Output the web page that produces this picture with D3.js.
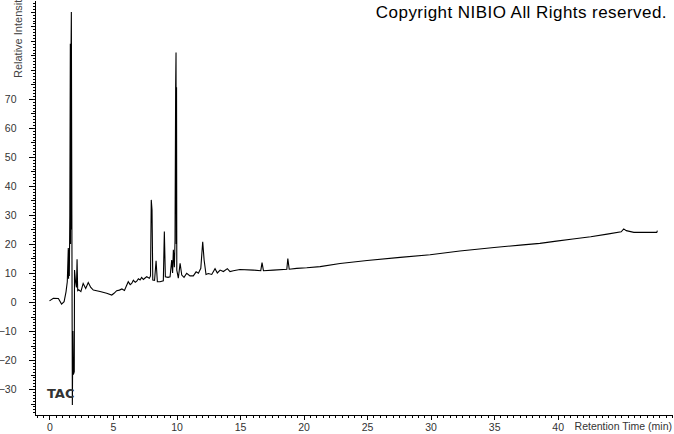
<!DOCTYPE html>
<html>
<head>
<meta charset="utf-8">
<script src="https://cdn.jsdelivr.net/npm/d3@7"></script>
<style>
  body { margin: 0; background: #fff; }
  svg { display: block; }
  .axis text { font-family: "Liberation Sans", Arial, sans-serif; font-size: 10.5px; fill: #333; }
  .axis path, .axis line { stroke: #000; shape-rendering: crispEdges; }
</style>
</head>
<body>
<svg width="674" height="434"></svg>
<script>
// Chromatogram trace (minutes, relative intensity).
let time_min = [
  0, 0.3, 0.7, 0.95, 1.15, 1.3, 1.4, 1.48, 1.5, 1.53, 1.56, 1.6, 1.64, 1.655, 1.67, 1.685,
  1.7, 1.72, 1.76, 1.8, 1.84, 1.88, 1.95, 1.97, 2.05, 2.12, 2.17, 2.22, 2.3, 2.47, 2.65,
  2.85, 3.05, 3.25, 3.45, 3.98, 4.5, 4.9, 5.08, 5.29, 5.5, 5.7, 5.9, 6.05, 6.2, 6.35, 6.47,
  6.6, 6.75, 6.87, 7.0, 7.13, 7.25, 7.39, 7.5, 7.65, 7.86, 7.95, 8.01, 8.07, 8.13, 8.27,
  8.39, 8.49, 8.7, 8.96, 9.04, 9.12, 9.33,
  9.49, 9.62, 9.69, 9.75, 9.83, 9.88, 9.93, 9.96, 9.98, 10.0, 10.02, 10.14, 10.28, 10.41,
  10.59, 10.8, 11.06, 11.32, 11.54, 11.72, 11.91, 12.06, 12.17, 12.32, 12.5, 12.77, 13.03,
  13.21, 13.43, 13.69, 14.0, 14.21, 14.47, 14.99, 16.05, 16.63, 16.73, 16.84, 17.62, 18.68,
  18.76, 18.87, 19.46, 20.25, 21.3, 22.87, 25, 27.6, 29.96, 32.3, 35, 37.05, 38.6, 39.9,
  41.2, 42.6, 43.9, 45.0, 45.2, 45.4, 46.0, 47.8, 47.85
];
let intensity = [
  0.4, 1.3, 1.2, -0.7, 0.1, 3.5, 7, 18.6, 8, 18, 9, 30, 89, 20, 89, 25,
  89, 100, 30, -35.5, -10, -25, -24, 11, 7, 5, 14.7, 3.9, 4.2, 3.6, 6.4,
  4.7, 6.7, 5, 4.1, 3.6, 3, 2.4, 3, 3.9, 4.1, 4.5, 4.0, 5.5, 7, 6, 6.4,
  7.5, 6.8, 7.2, 8, 7.6, 8.5, 7.8, 8.2, 8.7, 8.2, 9, 35.2, 31.7, 7.6, 7.5,
  14.2, 7, 7, 7.3, 24.3, 8.7, 8.5,
  8.7, 14.5, 10, 18, 12, 21.4, 74, 86, 20, 74, 11, 8.2, 13.3, 9.3,
  8.5, 9.9, 9, 9, 10.4, 9.9, 11.6, 20.8, 14.5, 9.5, 9.8, 9.5, 11.5,
  10, 11, 10.5, 11.5, 10.5, 10.8, 11.2, 11, 10.8, 13.6, 10.8, 11, 11.3,
  15, 11.3, 11.6, 11.8, 12.2, 13.3, 14.3, 15.4, 16.3, 17.6, 18.8, 19.6, 20.2, 21,
  21.7, 22.5, 23.4, 24.2, 25.2, 24.6, 24, 24, 24.6
];

// Tick labels.
let x_ticks = [0, 5, 10, 15, 20, 25, 30, 35, 40];
let y_ticks = [-30, -20, -10, 0, 10, 20, 30, 40, 50, 60, 70];

let svg = d3.select("svg");

let x = d3.scaleLinear().domain([-1.22, 49.0]).range([34, 672]);
let y = d3.scaleLinear().domain([-38.6, 104.1]).range([414, 0]);

// Y axis: minor ticks every 1, medium every 5, labelled every 10.
svg.append("g").attr("class", "axis").attr("transform", "translate(34.5,0)")
  .call(d3.axisLeft(y).tickValues(d3.range(-38, 104, 1)).tickSize(2).tickFormat("").tickSizeOuter(0));
svg.append("g").attr("class", "axis").attr("transform", "translate(34.5,0)")
  .call(d3.axisLeft(y).tickValues(d3.range(-35, 104, 5)).tickSize(4).tickFormat(""))
  .call(g => g.select(".domain").remove());
svg.append("g").attr("class", "axis").attr("transform", "translate(34.5,0)")
  .call(d3.axisLeft(y).tickValues(y_ticks).tickSize(6).tickPadding(12))
  .call(g => g.select(".domain").remove());

// X axis: minor ticks every half minute, labelled every 5.
svg.append("g").attr("class", "axis").attr("transform", "translate(0,414.5)")
  .call(d3.axisBottom(x).tickValues(d3.range(-1, 49.01, 0.5)).tickSize(3).tickFormat("").tickSizeOuter(0));
svg.append("g").attr("class", "axis").attr("transform", "translate(0,414.5)")
  .call(d3.axisBottom(x).tickValues(x_ticks).tickSize(5).tickPadding(4))
  .call(g => g.select(".domain").remove());

// The trace.
let line = d3.line()
  .x((d, i) => x(time_min[i]))
  .y(d => y(d));

svg.append("path")
  .datum(intensity)
  .attr("d", line)
  .attr("fill", "none")
  .attr("stroke", "#000")
  .attr("stroke-width", 1.1);

// Texts.
svg.append("text")
  .attr("x", 667).attr("y", 18)
  .attr("text-anchor", "end")
  .style("font-family", "Liberation Sans, Arial, sans-serif")
  .style("font-size", "17px")
  .style("letter-spacing", "0.45px")
  .text("Copyright NIBIO All Rights reserved.");

svg.append("text")
  .attr("transform", "translate(22,78) rotate(-90)")
  .style("font-family", "Liberation Sans, Arial, sans-serif")
  .style("font-size", "11px")
  .style("fill", "#444")
  .text("Relative Intensity");

svg.append("text")
  .attr("x", 672).attr("y", 430)
  .attr("text-anchor", "end")
  .style("font-family", "Liberation Sans, Arial, sans-serif")
  .style("font-size", "10.5px")
  .style("fill", "#333")
  .text("Retention Time (min)");

svg.append("text")
  .attr("x", 47).attr("y", 398)
  .style("font-family", "DejaVu Sans, Verdana, sans-serif")
  .style("font-weight", "bold")
  .style("font-size", "13px")
  .style("fill", "#333")
  .text("TAC");
</script>
</body>
</html>
